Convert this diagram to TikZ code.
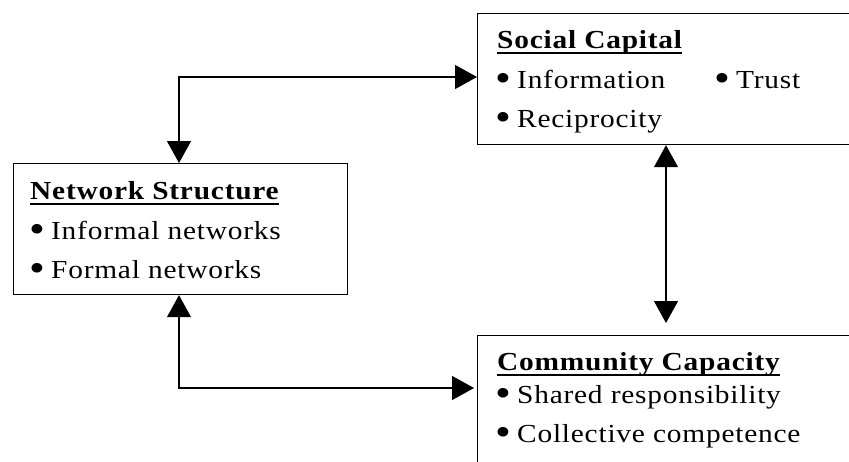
\documentclass[tikz,border=0pt]{standalone}
\usepackage{fontspec}
\setmainfont{Liberation Serif}[FakeStretch=1.13,LetterSpace=3]
\usetikzlibrary{arrows.meta}
\newcommand\itm[1]{\makebox[22pt][l]{\raisebox{-3.5pt}{\fontsize{40}{40}\selectfont\textbullet}}#1}
\begin{document}
\begin{tikzpicture}[x=1pt,y=-1pt,
  box/.style={draw=black,line width=1.2pt,inner sep=0pt,anchor=north west},
  txt/.style={inner sep=0pt,anchor=base west,font=\fontsize{26}{30}\selectfont},
  head/.style={txt,font=\fontsize{26}{30}\selectfont\bfseries},
  uline/.style={line width=2pt},
  biarrow/.style={line width=1.2pt,{Triangle[length=22pt,width=24pt]}-{Triangle[length=22pt,width=24pt]}}]
\useasboundingbox (0,0) rectangle (849,461);
\clip (0,0) rectangle (849,461);
\fill[white] (0,0) rectangle (849,461);
% boxes
\node[box,minimum width=420pt,minimum height=131pt] (sc) at (477,13) {};
\node[box,minimum width=334pt,minimum height=131pt] (ns) at (13,163) {};
\node[box,minimum width=420pt,minimum height=160pt] (cc) at (477,335) {};
% Social Capital
\node[head] (sch) at (497,48) {Social Capital};
\draw[uline] ([yshift=-5pt]sch.base west) -- ([yshift=-5pt]sch.base east);
\node[txt] (sc1) at (495,88) {\itm{Information}};
\node[txt] (sc2) at (714,88) {\itm{Trust}};
\node[txt] (sc3) at (495,127) {\itm{Reciprocity}};
% Network Structure
\node[head] (nsh) at (30,199) {Network Structure};
\draw[uline] ([yshift=-5pt]nsh.base west) -- ([yshift=-5pt]nsh.base east);
\node[txt] (ns1) at (29,239) {\itm{Informal networks}};
\node[txt] (ns2) at (29,278) {\itm{Formal networks}};
% Community Capacity
\node[head] (cch) at (497,370) {Community Capacity};
\draw[uline] ([yshift=-5pt]cch.base west) -- ([yshift=-5pt]cch.base east);
\node[txt] (cc1) at (495,403) {\itm{Shared responsibility}};
\node[txt] (cc2) at (495,442) {\itm{Collective competence}};
% connectors
\coordinate (k1) at (179,77);
\coordinate (k2) at (179,388);
\coordinate (k3) at (666,0);
\draw[biarrow] (ns.north -| k1) -- (k1) -- (k1 -| sc.west);
\draw[biarrow,shorten >=3pt] (ns.south -| k2) -- (k2) -- (k2 -| cc.west);
\draw[biarrow,shorten >=12pt] (sc.south -| k3) -- (cc.north -| k3);
\end{tikzpicture}
\end{document}
